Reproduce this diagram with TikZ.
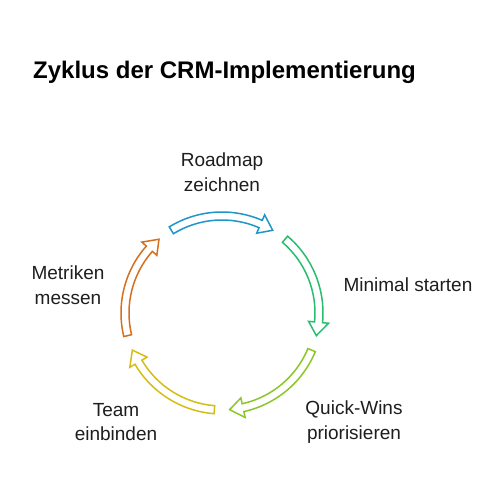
\documentclass[tikz,border=0pt]{standalone}
\usepackage{fontspec}
\setmainfont{Liberation Sans}
\definecolor{cblue}{RGB}{30,150,200}
\definecolor{cgreen}{RGB}{40,190,110}
\definecolor{clime}{RGB}{140,198,40}
\definecolor{cyellow}{RGB}{212,190,20}
\definecolor{corange}{RGB}{214,112,30}
\definecolor{ctext}{RGB}{30,30,30}
\tikzset{
  lbl/.style={font=\fontsize{19}{24.5}\selectfont, text=ctext, align=center, inner sep=0pt},
  ttl/.style={font=\fontsize{24}{28}\selectfont\bfseries, text=black, anchor=west, inner sep=0pt},
  arr/.style={line width=1.5pt, fill=white, line join=miter}
}
% #1 colour, #2 start angle, #3 end angle (clockwise)
\newcommand{\cycarrow}[3]{%
  \pgfmathsetmacro{\hb}{#3+8}%
  \draw[arr, draw=#1] (#2:101) arc[start angle=#2, end angle=\hb, radius=101]
    -- (\hb:107) -- (#3:97) -- (\hb:87) -- (\hb:93)
    arc[start angle=\hb, end angle=#2, radius=93] -- cycle;}
\begin{document}
\begin{tikzpicture}[x=1pt,y=1pt]
\useasboundingbox (0,0) rectangle (504,492);
\fill[white] (0,0) rectangle (504,492);
\node[ttl] (title) at (33,420) {Zyklus der CRM-Implementierung};
\begin{scope}[shift={(222,179)}]
  \coordinate (c) at (0,0);
  \cycarrow{cblue}{121.5}{58.5}
  \cycarrow{cgreen}{49.5}{-13.5}
  \cycarrow{clime}{-22.5}{-85.5}
  \cycarrow{cyellow}{-94.5}{-157.5}
  \cycarrow{corange}{193.5}{130.5}
\end{scope}
\node[lbl] (l1) at (222,320) {Roadmap\\zeichnen};
\node[lbl] (l2) at (408,207) {Minimal starten};
\node[lbl] (l3) at (354,70) {Quick-Wins\\priorisieren};
\node[lbl] (l4) at (116,70) {Team\\einbinden};
\node[lbl] (l5) at (68,207) {Metriken\\messen};
\end{tikzpicture}
\end{document}
